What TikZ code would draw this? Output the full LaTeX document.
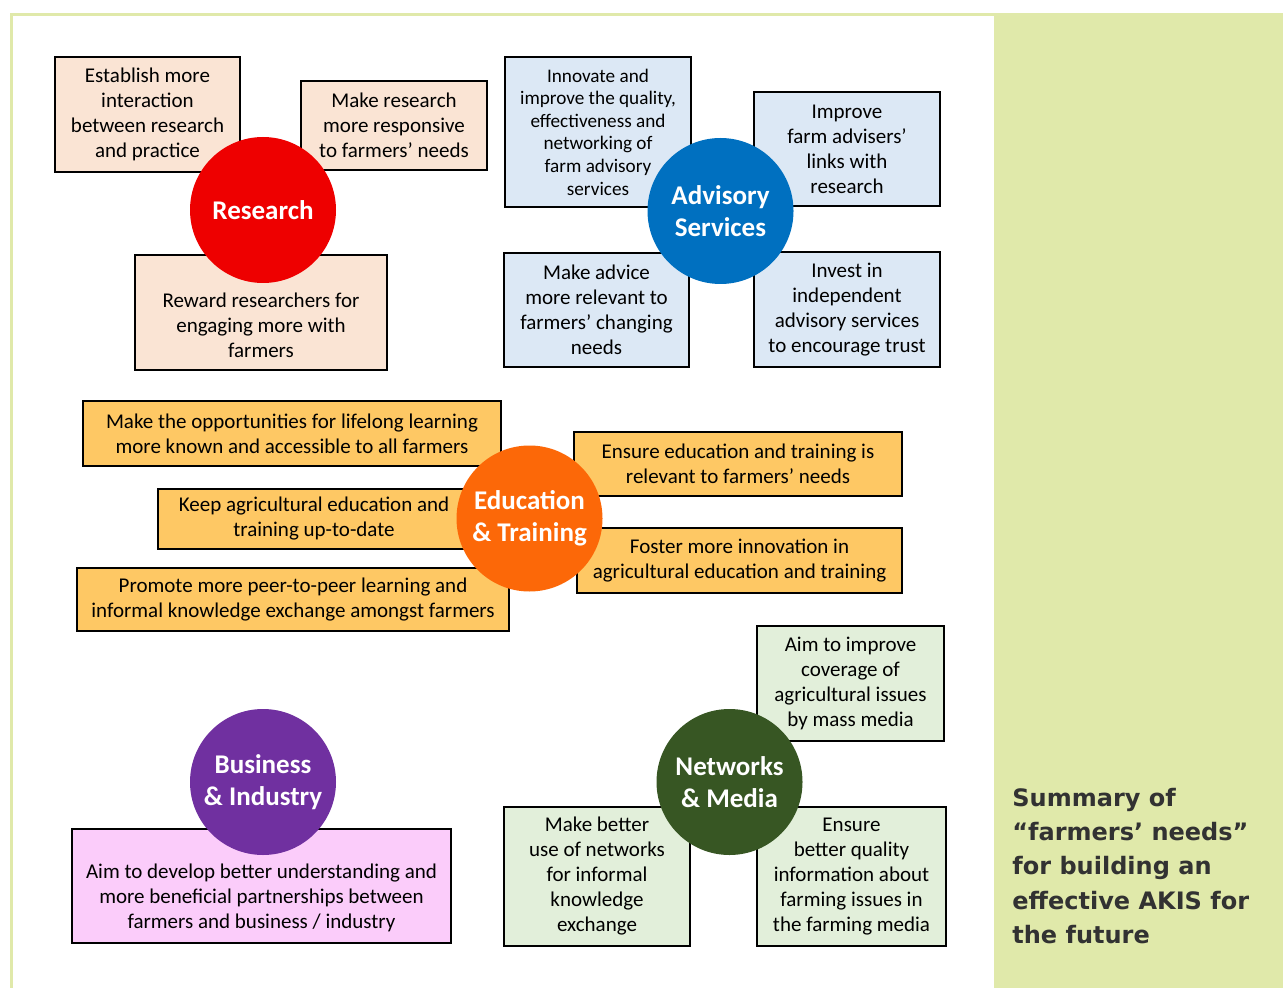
\documentclass[tikz,border=0pt]{standalone}
\usepackage{fontspec}
\setmainfont{Carlito}
\newfontfamily\summaryfont{DejaVu Sans}

\definecolor{panelgreen}{RGB}{224,233,170}
\definecolor{resfill}{RGB}{250,228,212}
\definecolor{advfill}{RGB}{220,232,245}
\definecolor{edufill}{RGB}{254,200,100}
\definecolor{busfill}{RGB}{251,204,250}
\definecolor{netfill}{RGB}{226,239,218}
\definecolor{resred}{RGB}{238,0,0}
\definecolor{advblue}{RGB}{0,112,192}
\definecolor{eduorange}{RGB}{252,104,8}
\definecolor{buspurple}{RGB}{112,48,160}
\definecolor{netgreen}{RGB}{55,86,35}
\definecolor{summarygrey}{RGB}{50,50,50}

\begin{document}
\begin{tikzpicture}[x=0.5pt,y=-0.5pt,
  need/.style={draw=black,line width=1pt,inner sep=0pt,align=center,
    font=\fontsize{10.5}{12.5}\selectfont},
  needtext/.style={inner sep=0pt,align=center,font=\fontsize{10.5}{12.5}\selectfont},
  resneed/.style={need,fill=resfill},
  advneed/.style={need,fill=advfill},
  eduneed/.style={need,fill=edufill},
  busneed/.style={need,fill=busfill},
  netneed/.style={need,fill=netfill},
  hub/.style={circle,inner sep=0pt,minimum size=73pt,text=white,align=center,
    font=\bfseries\fontsize{13.5}{16}\selectfont}]

% page, frame and side panel
\fill[white] (0,0) rectangle (1283,988);
\useasboundingbox (0,0) rectangle (1283,988);
\fill[panelgreen] (994,14) rectangle (1283,988);
\draw[panelgreen,line width=1.5pt] (11,988) -- (11,14.5) -- (1283,14.5);

% research
\node[resneed,minimum width=92.5pt,minimum height=57.5pt] (estab) at (147.5,114.5)
  {Establish more\\interaction\\between research\\and practice};
\node[resneed,minimum width=93pt,minimum height=44.5pt] (respons) at (394,125.5)
  {Make research\\more responsive\\to farmers’ needs};
\node[resneed,minimum width=126pt,minimum height=57.5pt] (reward) at (261,312.5) {};
\node[needtext] (rewardtext) at (261,325)
  {Reward researchers for\\engaging more with\\farmers};

% advisory services
\node[advneed,minimum width=93pt,minimum height=75pt,
  font=\fontsize{9.6}{11.3}\selectfont] (innov) at (598,132)
  {Innovate and\\improve the quality,\\effectiveness and\\networking of\\farm advisory\\services};
\node[advneed,minimum width=93pt,minimum height=57pt] (links) at (847,149)
  {Improve\\farm advisers’\\links with\\research};
\node[advneed,minimum width=92.5pt,minimum height=57pt] (relev) at (596.5,310)
  {Make advice\\more relevant to\\farmers’ changing\\needs};
\node[advneed,minimum width=93pt,minimum height=57.5pt] (trust) at (847,309.5)
  {Invest in\\independent\\advisory services\\to encourage trust};

% education and training
\node[eduneed,minimum width=209pt,minimum height=32.5pt] (lifelong) at (292,433.5)
  {Make the opportunities for lifelong learning\\more known and accessible to all farmers};
\node[eduneed,minimum width=156pt,minimum height=30pt] (uptodate) at (314,519)
  {Keep agricultural education and\\training up-to-date};
\node[eduneed,minimum width=216pt,minimum height=31.5pt] (peer) at (293,599.5)
  {Promote more peer-to-peer learning and\\informal knowledge exchange amongst farmers};
\node[eduneed,minimum width=164pt,minimum height=32pt] (edurel) at (738,464)
  {Ensure education and training is\\relevant to farmers’ needs};
\node[eduneed,minimum width=162.5pt,minimum height=32.5pt] (foster) at (739.5,560.5)
  {Foster more innovation in\\agricultural education and training};

% business and industry
\node[busneed,minimum width=189.5pt,minimum height=57pt] (partner) at (261.5,886) {};
\node[needtext] (partnertext) at (261.5,898)
  {Aim to develop better understanding and\\more beneficial partnerships between\\farmers and business / industry};

% networks and media
\node[netneed,minimum width=93.5pt,minimum height=57.5pt] (massmedia) at (850.5,683.5)
  {Aim to improve\\coverage of\\agricultural issues\\by mass media};
\node[netneed,minimum width=93pt,minimum height=69.5pt] (informal) at (597,876.5)
  {Make better\\use of networks\\for informal\\knowledge\\exchange};
\node[netneed,minimum width=94.5pt,minimum height=69.5pt] (quality) at (851.5,876.5)
  {Ensure\\better quality\\information about\\farming issues in\\the farming media};

% hubs on top
\node[hub,fill=resred] (research) at (263,210) {Research};
\node[hub,fill=advblue] (advisory) at (720.5,211) {Advisory\\Services};
\node[hub,fill=eduorange] (education) at (529.5,518.5) {Education\\\& Training};
\node[hub,fill=buspurple] (business) at (263,782) {Business\\\& Industry};
\node[hub,fill=netgreen] (networks) at (729.5,782) {Networks\\\& Media};

% side panel caption
\node[anchor=west,align=left,inner sep=0pt,text=summarygrey,
  font=\summaryfont\bfseries\fontsize{12}{17.2}\selectfont] (summary) at (1012,866)
  {Summary of\\“farmers’ needs”\\for building an\\effective AKIS for\\the future};
\end{tikzpicture}
\end{document}
